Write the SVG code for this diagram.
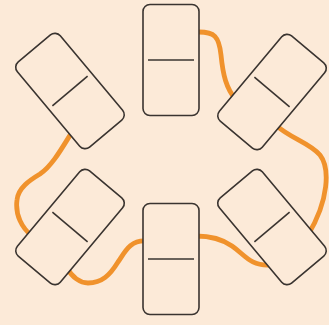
<svg xmlns="http://www.w3.org/2000/svg" width="329" height="325" viewBox="0 0 329 325">
<defs>
<style>
.bg{fill:#fcead8}
.dom{fill:#fcead8;stroke:#3a3430;stroke-width:1.6}
.mid{stroke:#3a3430;stroke-width:1.6;fill:none}
.wire{fill:none;stroke:#f0922c;stroke-width:4.8;stroke-linecap:round;stroke-linejoin:round}
</style>
<g id="domino-shape">
<rect class="dom" x="-28" y="-55.5" width="56" height="111" rx="7"/>
<line class="mid" x1="-23" y1="0" x2="23" y2="0"/>
</g>
</defs>
<rect class="bg" x="0" y="0" width="329" height="325"/>
<g id="connectors">
<path class="wire" d="M171,32 L199,32 C214,32 219,36 221,55 C223,75 226,88 236,100 L272,92 L277,126 C290,138 310,143 320,155 C330,168 329,200 308,235 L272,227 L270,265 C250,266 245,255 232,246 C222,239 212,236 196,236 L171,259 L146,241 C130,240 125,252 118,262 C110,275 102,283 88,283 C80,283 72,277 67,268 L70,227 L32,236 C22,228 15,215 17,200 C18,188 30,180 40,174 C52,166 62,148 72,132 L70,91"/>
</g>
<g id="node-top" transform="translate(171,60)"><use href="#domino-shape"/></g>
<g id="node-top-left" transform="translate(70,91) rotate(-40)"><use href="#domino-shape"/></g>
<g id="node-top-right" transform="translate(272,92) rotate(40)"><use href="#domino-shape"/></g>
<g id="node-bottom-left" transform="translate(70,227) rotate(40)"><use href="#domino-shape"/></g>
<g id="node-bottom-right" transform="translate(272,227) rotate(-40)"><use href="#domino-shape"/></g>
<g id="node-bottom" transform="translate(171,259)"><use href="#domino-shape"/></g>
</svg>
